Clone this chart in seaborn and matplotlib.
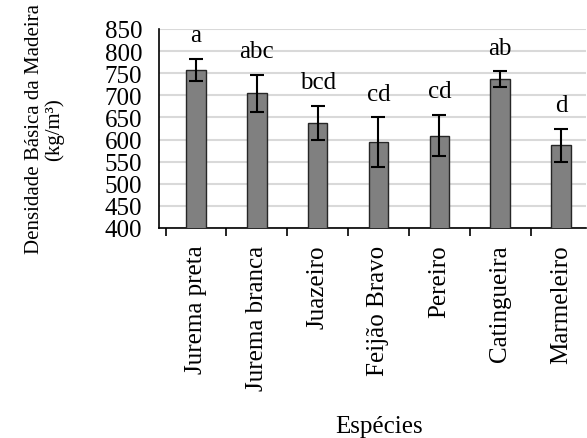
import matplotlib
matplotlib.use("Agg")
import matplotlib.pyplot as plt
import seaborn as sns
import numpy as np
import pandas as pd

# Basic wood density per species (mean and standard deviation, kg/m³)
species = ["Jurema preta", "Jurema branca", "Juazeiro", "Feijão Bravo",
           "Pereiro", "Catingueira", "Marmeleiro"]
density_mean = [758, 705, 638, 594, 609, 737, 587]
density_sd = [25, 42, 38, 57, 47, 18, 38]
letters = ["a", "abc", "bcd", "cd", "cd", "ab", "d"]
y_ticks = [400, 450, 500, 550, 600, 650, 700, 750, 800, 850]

sns.set_theme(style="white")
plt.rcParams["font.family"] = ["Liberation Serif", "DejaVu Serif"]

FS = 18

df = pd.DataFrame({"Espécies": species, "Densidade": density_mean})

fig = plt.figure(figsize=(5.87, 4.39), dpi=100)
ax = fig.add_axes([159 / 587, 1 - 229 / 439, (586 - 159) / 587, (229 - 30) / 439])

sns.barplot(data=df, x="Espécies", y="Densidade", color="#808080",
            saturation=1, width=0.32, edgecolor="#262626", linewidth=1.0,
            errorbar=None, ax=ax, zorder=3)

xpos = np.arange(len(species))
ax.errorbar(xpos, density_mean, yerr=density_sd, fmt="none", ecolor="black",
            elinewidth=1.5, capsize=5, capthick=1.5, zorder=4)

for x, m, s, lab in zip(xpos, density_mean, density_sd, letters):
    ax.annotate(lab, xy=(x, m + s), xytext=(0, 9), textcoords="offset points",
                ha="center", va="bottom", fontsize=FS, color="black")

ax.set_ylim(400, 850)
ax.set_xlim(-0.607, 6.41)
ax.set_yticks(y_ticks)
ax.yaxis.grid(True, color="#d9d9d9", linewidth=1.5, zorder=0)
ax.set_axisbelow(True)

ax.set_xticks(xpos)
ax.set_xticklabels(species, rotation=90, fontsize=FS, color="black")
ax.set_xticks(np.arange(-0.5, 6.0, 1.0), minor=True)
ax.tick_params(axis="x", which="major", length=0, pad=12)
ax.tick_params(axis="x", which="minor", length=6, width=1.2, color="black",
               direction="out", bottom=True)
ax.tick_params(axis="y", which="major", length=0, pad=12, labelsize=FS,
               labelcolor="black")

for side in ["top", "right"]:
    ax.spines[side].set_visible(False)
for side in ["left", "bottom"]:
    ax.spines[side].set_color("black")
    ax.spines[side].set_linewidth(1.2)

ax.set_ylabel("Densidade Básica da Madeira\n(kg/m³)", fontsize=15,
              color="black", linespacing=1.0)
ax.yaxis.set_label_coords(-0.222, 0.5)
ax.set_xlabel("Espécies", fontsize=FS, color="black")
ax.xaxis.set_label_coords(0.516, -0.94)

fig.savefig("out.png", dpi=100)
